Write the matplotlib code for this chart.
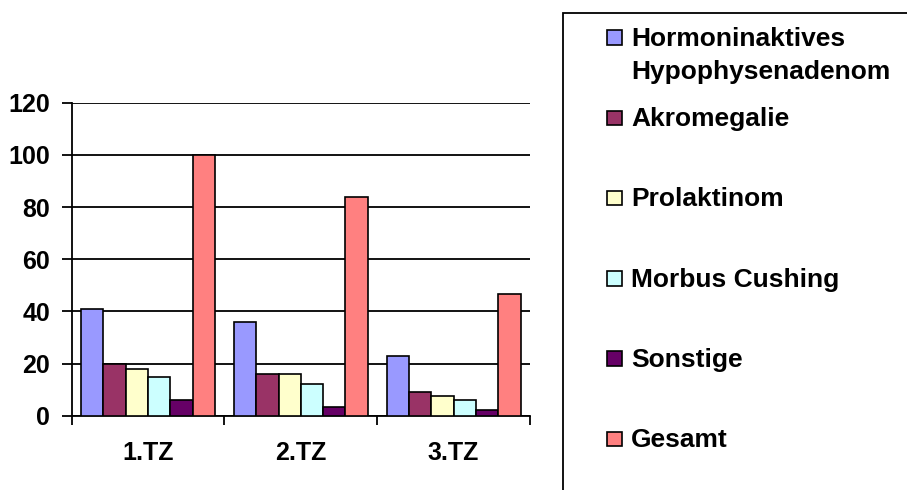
import numpy as np
import matplotlib
matplotlib.use("Agg")
import matplotlib.pyplot as plt
from matplotlib.patches import Rectangle

## Data
categories = ["1.TZ", "2.TZ", "3.TZ"]
series = ["Hormoninaktives\nHypophysenadenom", "Akromegalie", "Prolaktinom",
          "Morbus Cushing", "Sonstige", "Gesamt"]
hormoninaktiv = [41, 36, 23]
akromegalie = [20, 16, 9]
prolaktinom = [18, 16, 7.5]
cushing = [15, 12, 6]
sonstige = [6, 3.3, 2.3]
gesamt = [100, 84, 46.5]
values = [hormoninaktiv, akromegalie, prolaktinom, cushing, sonstige, gesamt]
colors = ["#9999FF", "#993366", "#FFFFCC", "#CCFFFF", "#660066", "#FF8080"]
yticks = [0, 20, 40, 60, 80, 100, 120]

plt.rcParams["font.family"] = ["Liberation Sans", "DejaVu Sans"]
plt.rcParams["font.weight"] = "bold"

W, H = 907, 490
fig = plt.figure(figsize=(W / 100, H / 100), dpi=100)
ax = fig.add_axes([71.7 / W, 1 - 415.7 / H, (530 - 71.7) / W, (415.7 - 102.7) / H])

## Bars
n = len(series)
w = 1 / 6.85
x0 = np.arange(len(categories)) + (1 - n * w) / 2
for j in range(n):
    ax.bar(x0 + j * w, values[j], width=w, align="edge", color=colors[j],
           edgecolor="black", linewidth=1.2, zorder=3)

## Axes styling
ax.set_xlim(0, len(categories))
ax.set_ylim(0, 120)
ax.set_yticks(yticks)
ax.yaxis.grid(True, color="black", linewidth=1.3, zorder=0)
ax.set_axisbelow(True)
for s in ["top", "right"]:
    ax.spines[s].set_visible(False)
for s in ["left", "bottom"]:
    ax.spines[s].set_linewidth(1.3)
ax.tick_params(axis="y", length=7, width=1.3, pad=8.5, labelsize=18)
ax.set_xticks(np.arange(len(categories) + 1))
ax.set_xticklabels([])
ax.tick_params(axis="x", which="major", length=6.5, width=1.3)
ax.set_xticks(np.arange(len(categories)) + 0.5, minor=True)
ax.set_xticklabels(categories, minor=True)
ax.tick_params(axis="x", which="minor", length=0, pad=18, labelsize=18)

## Legend (box runs off the figure edge like the original)
fig.patches.append(Rectangle((563 / W, -0.05), 0.5, 1 - 13 / H + 0.05,
                             transform=fig.transFigure, fill=False,
                             edgecolor="black", linewidth=1.3))
for j, name in enumerate(series):
    yc = 37.5 + j * 80.2
    fig.patches.append(Rectangle((607 / W, 1 - (yc + 7.5) / H), 14.5 / W, 14.5 / H,
                                 transform=fig.transFigure, facecolor=colors[j],
                                 edgecolor="black", linewidth=1.2))
    fig.text(631 / W, 1 - (yc + 8.5) / H, name.split("\n")[0], fontsize=19,
             fontweight="bold", va="baseline", ha="left")
    if "\n" in name:
        fig.text(631 / W, 1 - (yc + 32.5 + 8.5) / H, name.split("\n")[1],
                 fontsize=19, fontweight="bold", va="baseline", ha="left")

fig.savefig("out.png", dpi=100)
